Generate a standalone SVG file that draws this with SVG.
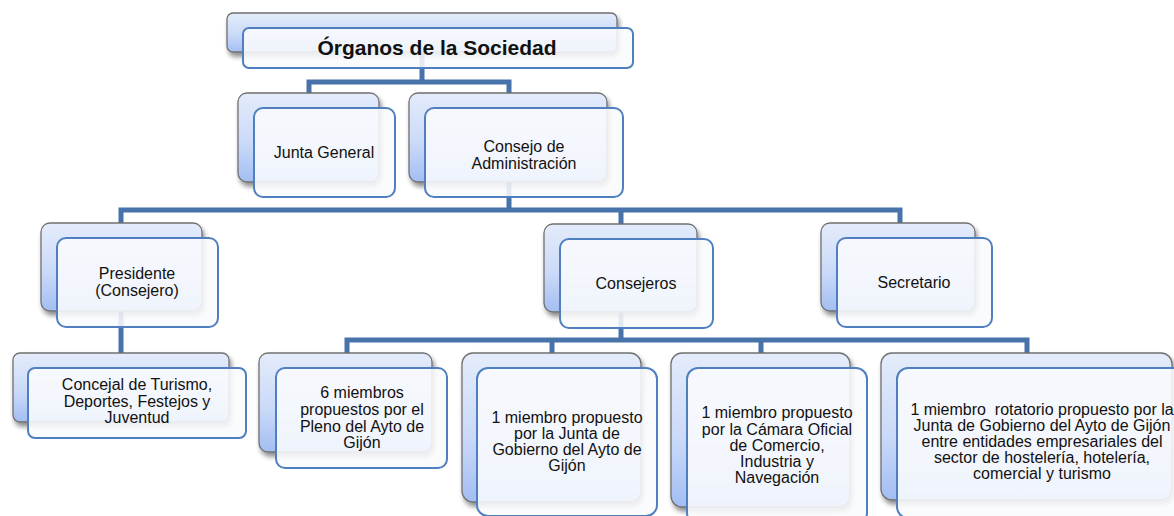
<svg xmlns="http://www.w3.org/2000/svg" width="1174" height="516" viewBox="0 0 1174 516">
<defs>
<linearGradient id="bg" x1="0" y1="0" x2="0" y2="1">
<stop offset="0" stop-color="#e4ecfb"/>
<stop offset="0.55" stop-color="#cbdaf8"/>
<stop offset="1" stop-color="#a3bef3"/>
</linearGradient>
<filter id="sh" x="-10%" y="-10%" width="125%" height="135%">
<feGaussianBlur in="SourceAlpha" stdDeviation="2.5"/>
<feOffset dx="2" dy="4"/>
<feComponentTransfer><feFuncA type="linear" slope="0.45"/></feComponentTransfer>
<feMerge><feMergeNode/><feMergeNode in="SourceGraphic"/></feMerge>
</filter>
</defs>
<style>
.back{fill:url(#bg);stroke:#707070;stroke-width:1.3;filter:url(#sh)}
.front{fill:#f9fafd;fill-opacity:0.88;stroke:#4f7fbf;stroke-width:2}
.conn{fill:none;stroke:#4872aa;stroke-width:5;stroke-linejoin:miter}
.t{font-family:"Liberation Sans",Arial,sans-serif;font-size:16px;fill:#111;text-anchor:middle}
.title{font-family:"Liberation Sans",Arial,sans-serif;font-size:21px;font-weight:bold;fill:#111;text-anchor:middle}
</style>
<rect width="1174" height="516" fill="#ffffff"/>
<g id="connectors">
<path class="conn" d="M422 52 V82 M309 93 V82 H509 V93"/>
<path class="conn" d="M509 182 V210 M121 223 V210 H900 V223 M621 210 V224"/>
<path class="conn" d="M121 311 V353"/>
<path class="conn" d="M621 312 V340 M347 353 V340 H1027 V353 M552 340 V353 M761 340 V353"/>
</g>
<g id="n-organos">
<rect class="back" x="227" y="13" width="390" height="39" rx="6"/>
<rect class="front" x="243" y="28" width="390" height="40" rx="6"/>
<text class="title" x="437" y="55">Órganos de la Sociedad</text>
</g>
<g id="n-junta">
<rect class="back" x="238" y="93" width="141" height="89" rx="9"/>
<rect class="front" x="254" y="108" width="141" height="89" rx="9"/>
<text class="t" x="324" y="158">Junta General</text>
</g>
<g id="n-consejo">
<rect class="back" x="409" y="93" width="198" height="89" rx="9"/>
<rect class="front" x="425" y="108" width="198" height="89" rx="9"/>
<text class="t" x="524" y="152">Consejo de</text>
<text class="t" x="524" y="169">Administración</text>
</g>
<g id="n-presidente">
<rect class="back" x="41" y="223" width="161" height="88" rx="9"/>
<rect class="front" x="57" y="238" width="161" height="89" rx="9"/>
<text class="t" x="137" y="279">Presidente</text>
<text class="t" x="137" y="296">(Consejero)</text>
</g>
<g id="n-consejeros">
<rect class="back" x="544" y="224" width="153" height="88" rx="9"/>
<rect class="front" x="560" y="239" width="153" height="89" rx="9"/>
<text class="t" x="636" y="289">Consejeros</text>
</g>
<g id="n-secretario">
<rect class="back" x="821" y="223" width="154" height="88" rx="9"/>
<rect class="front" x="837" y="238" width="155" height="89" rx="9"/>
<text class="t" x="914" y="288">Secretario</text>
</g>
<g id="n-concejal">
<rect class="back" x="13" y="353" width="216" height="69" rx="7"/>
<rect class="front" x="28" y="368" width="218" height="70" rx="7"/>
<text class="t" x="137" y="390">Concejal de Turismo,</text>
<text class="t" x="137" y="407">Deportes, Festejos y</text>
<text class="t" x="137" y="423">Juventud</text>
</g>
<g id="n-seis">
<rect class="back" x="259" y="353" width="173" height="99" rx="9"/>
<rect class="front" x="276" y="368" width="171" height="100" rx="9"/>
<text class="t" x="362" y="398">6 miembros</text>
<text class="t" x="362" y="415">propuestos por el</text>
<text class="t" x="362" y="432">Pleno del Ayto de</text>
<text class="t" x="362" y="448">Gijón</text>
</g>
<g id="n-junta-gobierno">
<rect class="back" x="462" y="353" width="179" height="149" rx="11"/>
<rect class="front" x="477" y="368" width="180" height="148" rx="11"/>
<text class="t" x="567" y="423">1 miembro propuesto</text>
<text class="t" x="567" y="439">por la Junta de</text>
<text class="t" x="567" y="455">Gobierno del Ayto de</text>
<text class="t" x="567" y="471">Gijón</text>
</g>
<g id="n-camara">
<rect class="back" x="671" y="353" width="179" height="154" rx="11"/>
<rect class="front" x="687" y="368" width="180" height="156" rx="11"/>
<text class="t" x="777" y="418">1 miembro propuesto</text>
<text class="t" x="777" y="435">por la Cámara Oficial</text>
<text class="t" x="777" y="451">de Comercio,</text>
<text class="t" x="777" y="467">Industria y</text>
<text class="t" x="777" y="483">Navegación</text>
</g>
<g id="n-rotatorio">
<rect class="back" x="881" y="353" width="291" height="147" rx="11"/>
<rect class="front" x="897" y="368" width="292" height="150" rx="11"/>
<text class="t" x="1042" y="415" xml:space="preserve">1 miembro  rotatorio propuesto por la</text>
<text class="t" x="1042" y="431">Junta de Gobierno del Ayto de Gijón</text>
<text class="t" x="1042" y="447">entre entidades empresariales del</text>
<text class="t" x="1042" y="463">sector de hostelería, hotelería,</text>
<text class="t" x="1042" y="479">comercial y turismo</text>
</g>
</svg>
